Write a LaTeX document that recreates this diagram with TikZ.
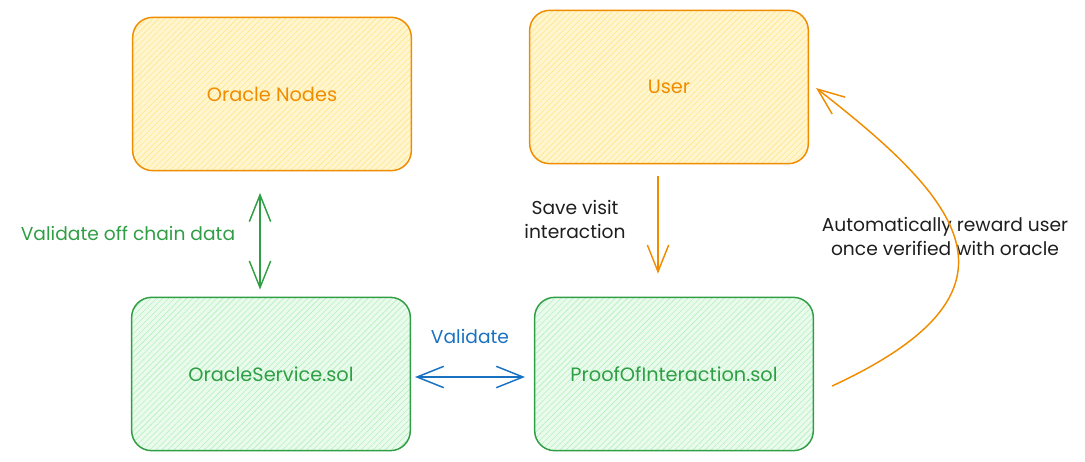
\documentclass[tikz,border=0pt]{standalone}
\usepackage{fontspec}
\setmainfont{Poppins}
\usetikzlibrary{arrows.meta,patterns.meta,calc}
\definecolor{ostroke}{HTML}{F08C00}
\definecolor{ofill}{HTML}{FFF6D0}
\definecolor{ohatch}{HTML}{FFE58A}
\definecolor{gstroke}{HTML}{2F9E44}
\definecolor{gfill}{HTML}{EAFBEE}
\definecolor{ghatch}{HTML}{B2F2BB}
\definecolor{bstroke}{HTML}{1971C2}
\definecolor{ink}{HTML}{1E1E1E}
\tikzset{
  box/.style={draw, line width=1.1pt, rounded corners=15pt, minimum width=209pt, minimum height=115pt, inner sep=0pt, font=\fontsize{14.5}{17}\selectfont},
  obox/.style={box, draw=ostroke, text=ostroke, preaction={fill=ofill}, pattern={Lines[angle=45,distance=3.2pt,line width=0.45pt]}, pattern color=ohatch},
  gbox/.style={box, draw=gstroke, text=gstroke, preaction={fill=gfill}, pattern={Lines[angle=45,distance=3.2pt,line width=0.45pt]}, pattern color=ghatch},
  lbl/.style={font=\fontsize{14}{18}\selectfont, align=center, inner sep=1pt},
  conn/.style={line width=1.1pt, arrows={Straight Barb[length=20pt,width=16pt,line width=1.1pt]-Straight Barb[length=20pt,width=16pt,line width=1.1pt]}},
  oneway/.style={line width=1.1pt, arrows={-Straight Barb[length=20pt,width=16pt,line width=1.1pt]}},
}
\begin{document}
\begin{tikzpicture}[x=0.75pt,y=-0.75pt]
\useasboundingbox (0,0) rectangle (1085,461);
\node[obox] (on) at (272,94) {Oracle Nodes};
\node[obox] (user) at (669,87) {User};
\node[gbox] (os) at (271,374) {OracleService.sol};
\node[gbox] (pi) at (674,374) {ProofOfInteraction.sol};

\node[lbl, text=gstroke] (l1) at (128,233) {Validate off chain data};
\node[lbl, text=bstroke] (l2) at (470,336) {Validate};
\node[lbl, text=ink] (l3) at (575,219) {Save visit\\interaction};
\node[lbl, text=ink] (l4) at (945,236) {Automatically reward user\\once verified with oracle};

\draw[conn, gstroke] ($(on.south)+(-12,22)$) -- ($(os.north)+(-11,-7)$);
\draw[conn, bstroke] ($(os.east)+(4,3)$) -- ($(pi.west)+(-9,3)$);
\draw[oneway, ostroke] ($(user.south)+(-11,12)$) -- ($(pi.north)+(-16,-23)$);
\coordinate (cs) at ($(pi.east)+(18,12)$);
\coordinate (ce) at ($(user.east)+(7,1)$);
\draw[oneway, ostroke] (cs) .. controls (1040,290) and (960,200) .. (ce);
\end{tikzpicture}
\end{document}
